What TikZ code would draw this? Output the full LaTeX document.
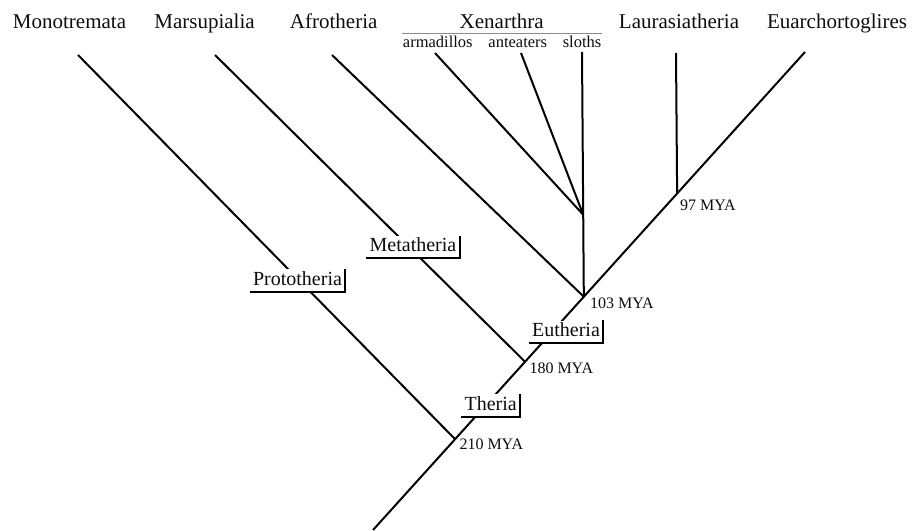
\documentclass[tikz,border=0pt]{standalone}
\usepackage{fontspec}
\setmainfont{Liberation Serif}
\usetikzlibrary{calc}
\definecolor{ink}{gray}{0.05}
\definecolor{rule}{gray}{0.55}
\begin{document}
\begin{tikzpicture}[x=1pt,y=-1pt,
  branch/.style={line width=2pt, line cap=butt, draw=black},
  taxon/.style={anchor=base, inner sep=0pt, font=\fontsize{21}{25}\selectfont, text=ink},
  subtaxon/.style={anchor=base, inner sep=0pt, font=\fontsize{16.5}{20}\selectfont, text=ink},
  age/.style={anchor=base west, inner sep=0pt, font=\fontsize{16}{19}\selectfont, text=ink},
  clade/.style={anchor=base, fill=white, inner xsep=3pt, inner ysep=2pt,
    text height=13.7pt, text depth=4.4pt, font=\fontsize{20}{24}\selectfont, text=ink},
  cladeline/.style={line width=2pt, draw=black},
  grouprule/.style={line width=1pt, draw=rule}]
\useasboundingbox (0,0) rectangle (920,530);
% coordinates
\coordinate (root) at (373,530);
\coordinate (tEuar) at (805,52);
\coordinate (n210) at ($(root)!0.19!(tEuar)$);
\coordinate (n180) at ($(root)!0.352!(tEuar)$);
\coordinate (n103) at ($(root)!0.488!(tEuar)$);
\coordinate (n97) at ($(root)!0.704!(tEuar)$);
\coordinate (tMono) at (78,55);
\coordinate (tMars) at (215,55);
\coordinate (tAfro) at (332,55);
\coordinate (tArma) at (435,53);
\coordinate (tAnte) at (521,53);
\coordinate (tSlot) at (582,52);
\coordinate (tLaur) at (676,53);
\coordinate (xen) at ($(n103)!0.335!(tSlot)$);
\coordinate (xl) at (402,33);
\coordinate (xr) at (602,33);
% branches
\draw[branch] (root) -- (tEuar);
\draw[branch] (n210) -- (tMono);
\draw[branch] (n180) -- (tMars);
\draw[branch] (n103) -- (tAfro);
\draw[branch] (n103) -- (tSlot);
\draw[branch] (xen) -- (tArma);
\draw[branch] (xen) -- (tAnte);
\draw[branch] (n97) -- (tLaur);
% taxon labels
\node[taxon] (lMono) at (69.5,28) {Monotremata};
\node[taxon] (lMars) at (204.5,28) {Marsupialia};
\node[taxon] (lAfro) at (333.7,28) {Afrotheria};
\node[taxon] (lXen) at (501.7,28) {Xenarthra};
\node[taxon] (lLaur) at (679,28) {Laurasiatheria};
\node[taxon] (lEuar) at (837,28) {Euarchortoglires};
\draw[grouprule] (xl) -- (xr);
\node[subtaxon] (lArma) at (437.8,47) {armadillos};
\node[subtaxon] (lAnte) at (517.8,47) {anteaters};
\node[subtaxon] (lSlot) at (582,47) {sloths};
% ages
\node[age] (a210) at (459.3,449) {210 MYA};
\node[age] (a180) at (529.3,373.3) {180 MYA};
\node[age] (a103) at (590,308.3) {103 MYA};
\node[age] (a97) at (680,210) {97 MYA};
% clade boxes
\node[clade] (cProto) at (297.5,285) {Prototheria};
\node[clade] (cMeta) at (413,251.7) {Metatheria};
\node[clade] (cEu) at (566,336.3) {Eutheria};
\node[clade] (cTher) at (490.7,410) {Theria};
\foreach \c in {cProto,cMeta,cEu,cTher}
  \draw[cladeline] (\c.south west) -- (\c.south east) -- (\c.north east);
\end{tikzpicture}
\end{document}
